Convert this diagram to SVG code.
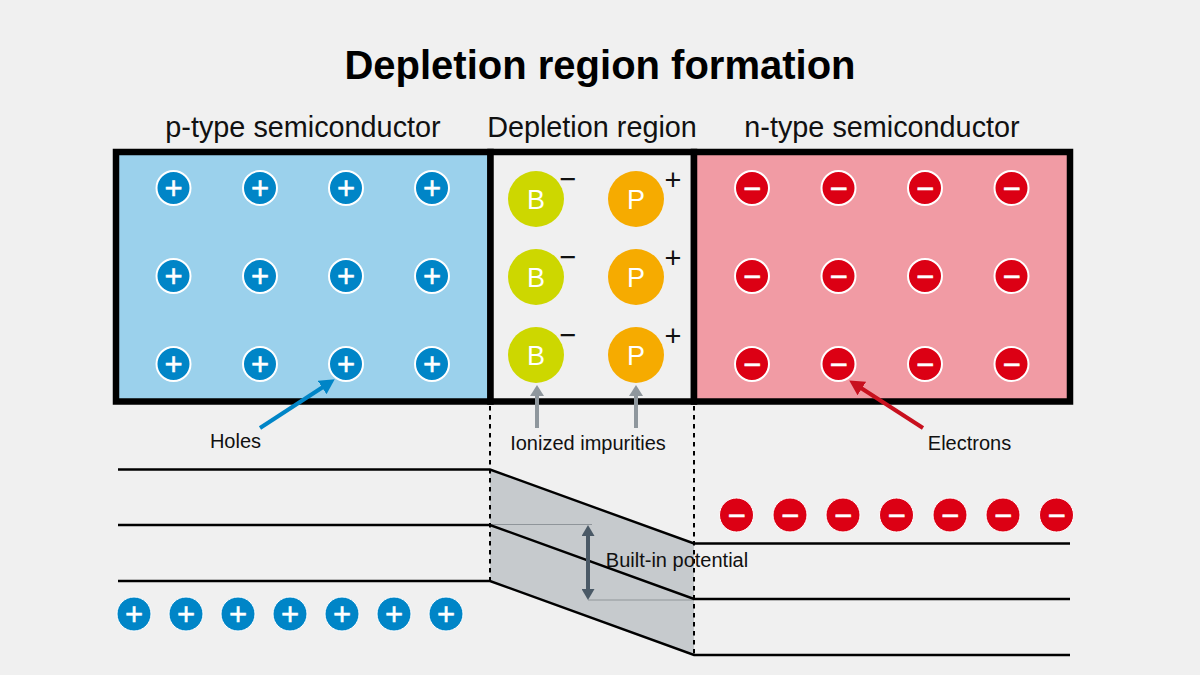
<svg xmlns="http://www.w3.org/2000/svg" width="1200" height="675" viewBox="0 0 1200 675">
<style>
text{font-family:"Liberation Sans",Arial,sans-serif;fill:#111}
.title{font-size:40px;font-weight:700;text-anchor:middle;fill:#000}
.head{font-size:28.800px;text-anchor:middle}
.lab{font-size:20px;text-anchor:middle}
.box{stroke:#000;stroke-width:6.5}
.level{fill:none;stroke:#000;stroke-width:2.4}
.dash{stroke:#000;stroke-width:2;stroke-dasharray:4.5 4.5}
.thin{stroke:#8f959a;stroke-width:1.2}
.h{fill:#0085c7;stroke:#fff;stroke-width:2}
.e{fill:#dc0014;stroke:#fff;stroke-width:2}
.h2{fill:#0085c7;stroke:#fff;stroke-width:1}
.e2{fill:#dc0014;stroke:#fff;stroke-width:1}
.sg{fill:#fff;stroke:#fff;stroke-width:.5;font-size:31px;text-anchor:middle}
.B{fill:#cdd700}.P{fill:#f6ab00}
.ion{fill:#fff;font-size:27px;text-anchor:middle}
.chg{font-size:29px;text-anchor:middle}
</style>
<defs>
<marker id="mb" markerUnits="userSpaceOnUse" markerWidth="16" markerHeight="16" refX="1" refY="8" orient="auto"><path d="M0 0L15 8L0 16z" fill="#0085c7"/></marker>
<marker id="mr" markerUnits="userSpaceOnUse" markerWidth="16" markerHeight="16" refX="1" refY="8" orient="auto"><path d="M0 0L15 8L0 16z" fill="#c8101e"/></marker>
<marker id="mg" markerUnits="userSpaceOnUse" markerWidth="12" markerHeight="14" refX="1" refY="7" orient="auto"><path d="M0 0L11 7L0 14z" fill="#8f979d"/></marker>
<marker id="md" markerUnits="userSpaceOnUse" markerWidth="12" markerHeight="13" refX="1" refY="6.500" orient="auto-start-reverse"><path d="M0 0L11 6.500L0 13z" fill="#4a5966"/></marker>
<g id="plus"><circle r="17"/><text class="sg" y="10.700">+</text></g>
<g id="minus"><circle r="17"/><text class="sg" y="10.700">−</text></g>
</defs>
<rect id="background" width="1200" height="675" fill="#f0f0f0"/>
<text class="title" x="600" y="79">Depletion region formation</text>
<text class="head" x="303" y="137">p-type semiconductor</text>
<text class="head" x="592" y="137">Depletion region</text>
<text class="head" x="882" y="137">n-type semiconductor</text>

<g id="p-type"><rect class="box" x="116" y="152" width="374.500" height="249.500" fill="#9bd1ec"/></g>
<g id="depletion"><rect class="box" x="490.500" y="152" width="203.500" height="249.500" fill="#f0f0f0"/></g>
<g id="n-type"><rect class="box" x="694" y="152" width="376" height="249.500" fill="#f19ba4"/></g>

<g id="band-fill"><path d="M490 470L694 544V655L490 581z" fill="#c6cacd"/></g>

<g id="holes">
<use href="#plus" class="h" x="173.500" y="188"/><use href="#plus" class="h" x="260" y="188"/><use href="#plus" class="h" x="346" y="188"/><use href="#plus" class="h" x="432" y="188"/>
<use href="#plus" class="h" x="173.500" y="276"/><use href="#plus" class="h" x="260" y="276"/><use href="#plus" class="h" x="346" y="276"/><use href="#plus" class="h" x="432" y="276"/>
<use href="#plus" class="h" x="173.500" y="364"/><use href="#plus" class="h" x="260" y="364"/><use href="#plus" class="h" x="346" y="364"/><use href="#plus" class="h" x="432" y="364"/>
</g>
<g id="electrons">
<use href="#minus" class="e" x="752" y="188"/><use href="#minus" class="e" x="838.500" y="188"/><use href="#minus" class="e" x="925" y="188"/><use href="#minus" class="e" x="1011.500" y="188"/>
<use href="#minus" class="e" x="752" y="276"/><use href="#minus" class="e" x="838.500" y="276"/><use href="#minus" class="e" x="925" y="276"/><use href="#minus" class="e" x="1011.500" y="276"/>
<use href="#minus" class="e" x="752" y="364"/><use href="#minus" class="e" x="838.500" y="364"/><use href="#minus" class="e" x="925" y="364"/><use href="#minus" class="e" x="1011.500" y="364"/>
</g>
<g id="ion-b1"><circle class="B" cx="536" cy="199" r="28"/><text class="ion" x="536" y="208.500">B</text><text class="chg" x="568" y="189">−</text></g>
<g id="ion-b2"><circle class="B" cx="536" cy="277" r="28"/><text class="ion" x="536" y="286.500">B</text><text class="chg" x="568" y="267">−</text></g>
<g id="ion-b3"><circle class="B" cx="536" cy="355" r="28"/><text class="ion" x="536" y="364.500">B</text><text class="chg" x="568" y="345">−</text></g>
<g id="ion-p1"><circle class="P" cx="636" cy="199" r="28"/><text class="ion" x="636" y="208.500">P</text><text class="chg" x="673" y="190">+</text></g>
<g id="ion-p2"><circle class="P" cx="636" cy="277" r="28"/><text class="ion" x="636" y="286.500">P</text><text class="chg" x="673" y="268">+</text></g>
<g id="ion-p3"><circle class="P" cx="636" cy="355" r="28"/><text class="ion" x="636" y="364.500">P</text><text class="chg" x="673" y="346">+</text></g>

<g id="connectors">
<line class="dash" x1="490" y1="406" x2="490" y2="581"/>
<line class="dash" x1="694" y1="406" x2="694" y2="655"/>
<line class="thin" x1="490" y1="524.500" x2="592" y2="524.500"/>
<line class="thin" x1="588" y1="600" x2="694" y2="600"/>
<path class="level" d="M118 469.500H490L694 543.500H1070"/>
<path class="level" d="M118 525H490L694 599H1070"/>
<path class="level" d="M118 581H490L694 655H1070"/>
<line x1="588" y1="535" x2="588" y2="590" stroke="#4a5966" stroke-width="4" marker-start="url(#md)" marker-end="url(#md)"/>
<line x1="260" y1="428" x2="323" y2="387" stroke="#0085c7" stroke-width="4" marker-end="url(#mb)"/>
<line x1="923" y1="428" x2="861" y2="388" stroke="#c8101e" stroke-width="4" marker-end="url(#mr)"/>
<line x1="537" y1="428" x2="537" y2="395" stroke="#8f979d" stroke-width="4" marker-end="url(#mg)"/>
<line x1="636" y1="428" x2="636" y2="395" stroke="#8f979d" stroke-width="4" marker-end="url(#mg)"/>
</g>

<g id="holes-low">
<use href="#plus" class="h2" x="134" y="614"/><use href="#plus" class="h2" x="186" y="614"/><use href="#plus" class="h2" x="238" y="614"/><use href="#plus" class="h2" x="290" y="614"/><use href="#plus" class="h2" x="342" y="614"/><use href="#plus" class="h2" x="394" y="614"/><use href="#plus" class="h2" x="446" y="614"/>
</g>
<g id="electrons-high">
<use href="#minus" class="e2" x="736.500" y="515"/><use href="#minus" class="e2" x="790" y="515"/><use href="#minus" class="e2" x="843" y="515"/><use href="#minus" class="e2" x="896.500" y="515"/><use href="#minus" class="e2" x="950" y="515"/><use href="#minus" class="e2" x="1003" y="515"/><use href="#minus" class="e2" x="1056.500" y="515"/>
</g>
<text class="lab" x="235.500" y="448">Holes</text>
<text class="lab" x="588" y="450">Ionized impurities</text>
<text class="lab" x="969.500" y="450">Electrons</text>
<text class="lab" x="677" y="567">Built-in potential</text>
</svg>
